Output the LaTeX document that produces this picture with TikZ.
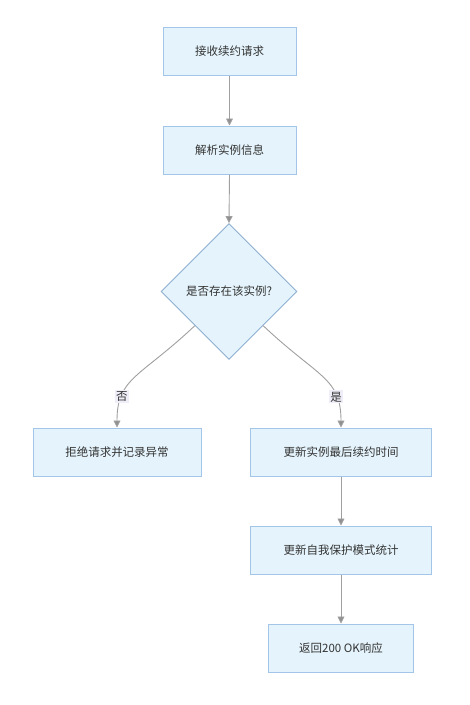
\documentclass[tikz,border=0pt]{standalone}
\usepackage{fontspec}
\setmainfont{Noto Sans CJK SC}
\usetikzlibrary{shapes.geometric,arrows.meta}
\definecolor{boxfill}{HTML}{E5F4FC}
\definecolor{boxline}{HTML}{A3C6E8}
\definecolor{dialine}{HTML}{8EAED0}
\definecolor{edgec}{HTML}{A0A0A0}
\definecolor{lblbg}{HTML}{EFEDF7}
\definecolor{txt}{HTML}{333333}
\begin{document}
\begin{tikzpicture}[x=1pt,y=-1pt,
  font=\fontsize{11.5}{14}\selectfont,
  box/.style={rectangle, draw=boxline, fill=boxfill, line width=1pt, minimum height=48pt, inner sep=0pt, text=txt},
  dia/.style={diamond, aspect=1, draw=dialine, fill=boxfill, line width=0.9pt, minimum width=136pt, minimum height=136pt, inner sep=0pt, text=txt},
  edge/.style={draw=edgec, line width=0.9pt, -{Triangle[length=7pt,width=7pt,fill=edgec!90!black]}},
  lbl/.style={fill=lblbg, inner sep=1.5pt, text=txt}]
\useasboundingbox[fill=white] (0,0) rectangle (470,705);
\node[box, minimum width=133pt] (a) at (229.5,51) {接收续约请求};
\node[box, minimum width=133pt] (b) at (229.5,150) {解析实例信息};
\node[dia] (c) at (229,291.5) {是否存在该实例?};
\node[box, minimum width=168pt] (d) at (117,452) {拒绝请求并记录异常};
\node[box, minimum width=181pt] (e) at (341,452) {更新实例最后续约时间};
\node[box, minimum width=181pt] (f) at (341,550) {更新自我保护模式统计};
\node[box, minimum width=145pt] (g) at (341,648) {返回200 OK响应};
\draw[edge] (a.south) -- (b.north);
\draw[edge] (b.south) -- (c.north);
\draw[edge] (c.south west) .. controls +(-55,52) and +(0,-50) .. node[lbl, pos=0.74] {否} (d.north);
\draw[edge] (c.south east) .. controls +(55,52) and +(0,-50) .. node[lbl, pos=0.74] {是} (e.north);
\draw[edge] (e.south) -- (f.north);
\draw[edge] (f.south) -- (g.north);
\end{tikzpicture}
\end{document}
